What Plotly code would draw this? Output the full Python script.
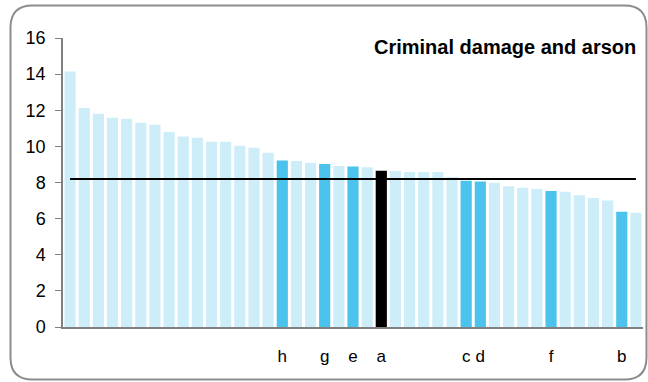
import plotly.graph_objects as go

# Data
values = [14.14, 12.12, 11.81, 11.59, 11.53, 11.31, 11.20, 10.80, 10.54, 10.48,
          10.26, 10.26, 10.04, 9.93, 9.65, 9.22, 9.19, 9.08, 9.02, 8.91,
          8.88, 8.84, 8.65, 8.64, 8.58, 8.58, 8.58, 8.30, 8.10, 8.05,
          7.99, 7.79, 7.71, 7.64, 7.53, 7.49, 7.29, 7.14, 7.01, 6.38, 6.33]
labels = ["", "", "", "", "", "", "", "", "", "",
          "", "", "", "", "", "h", "", "", "g", "",
          "e", "", "a", "", "", "", "", "", "c", "d",
          "", "", "", "", "f", "", "", "", "", "b", ""]
average = 8.2
title_text = "Criminal damage and arson"
y_ticks = [0, 2, 4, 6, 8, 10, 12, 14, 16]

positions = list(range(1, len(values) + 1))

LIGHT = "#CDEDF9"
HIGHLIGHT = "#4BC3EC"
SELF = "#000000"

colors = []
for lab in labels:
    if lab == "a":
        colors.append(SELF)
    elif lab:
        colors.append(HIGHLIGHT)
    else:
        colors.append(LIGHT)

fig = go.Figure()
fig.add_trace(go.Bar(x=positions, y=values, marker=dict(color=colors, line=dict(width=0)),
                     width=0.79, hoverinfo="skip"))
fig.add_trace(go.Scatter(x=[positions[0], positions[-1]], y=[average, average], mode="lines",
                         line=dict(color="#000000", width=2), hoverinfo="skip"))

W, H = 648, 382
ml, mr, mt, mb = 63, 5, 38, 55
pw, ph = W - ml - mr, H - mt - mb

def px(x):
    return (x - ml) / pw

def py(y):
    return (H - mb - y) / ph

# rounded frame
L, R, T, B, rad = 10.5, 646.5, 5.5, 379.5, 22
path = (f"M {px(L + rad)},{py(T)} L {px(R - rad)},{py(T)} "
        f"Q {px(R)},{py(T)} {px(R)},{py(T + rad)} "
        f"L {px(R)},{py(B - rad)} Q {px(R)},{py(B)} {px(R - rad)},{py(B)} "
        f"L {px(L + rad)},{py(B)} Q {px(L)},{py(B)} {px(L)},{py(B - rad)} "
        f"L {px(L)},{py(T + rad)} Q {px(L)},{py(T)} {px(L + rad)},{py(T)} Z")

tick_pos = [p for p, l in zip(positions, labels) if l]
tick_txt = [l for l in labels if l]

fig.update_layout(
    width=W, height=H,
    margin=dict(l=ml, r=mr, t=mt, b=mb, pad=0),
    paper_bgcolor="white", plot_bgcolor="white",
    showlegend=False,
    bargap=0.2,
    font=dict(family="Liberation Sans, Arial, sans-serif", size=16, color="#000000"),
    xaxis=dict(range=[0.5, len(values) + 0.5], tickmode="array", tickvals=tick_pos,
               ticktext=tick_txt, ticks="", showgrid=False, zeroline=False,
               showline=True, linecolor="#808080", linewidth=1.5,
               ticklabelstandoff=13, tickfont=dict(size=17)),
    yaxis=dict(range=[0, 16], tickmode="array", tickvals=y_ticks, ticks="outside",
               ticklen=6, tickcolor="#808080", tickwidth=1.2, showgrid=False,
               zeroline=False, showline=True, linecolor="#808080", linewidth=1.5,
               ticklabelstandoff=6, tickfont=dict(size=18)),
    shapes=[dict(type="path", xref="paper", yref="paper", path=path,
                 line=dict(color="#8C8C8C", width=2), fillcolor="rgba(0,0,0,0)", layer="below")],
    annotations=[dict(text=f"<b>{title_text}</b>", xref="paper", yref="paper",
                      x=px(638), y=py(47), xanchor="right", yanchor="middle",
                      showarrow=False, font=dict(size=20, color="#000000"))],
)

fig.write_html("out.html", config={"displayModeBar": False},
               post_script="document.body.style.margin='0';document.body.style.overflow='hidden';")
